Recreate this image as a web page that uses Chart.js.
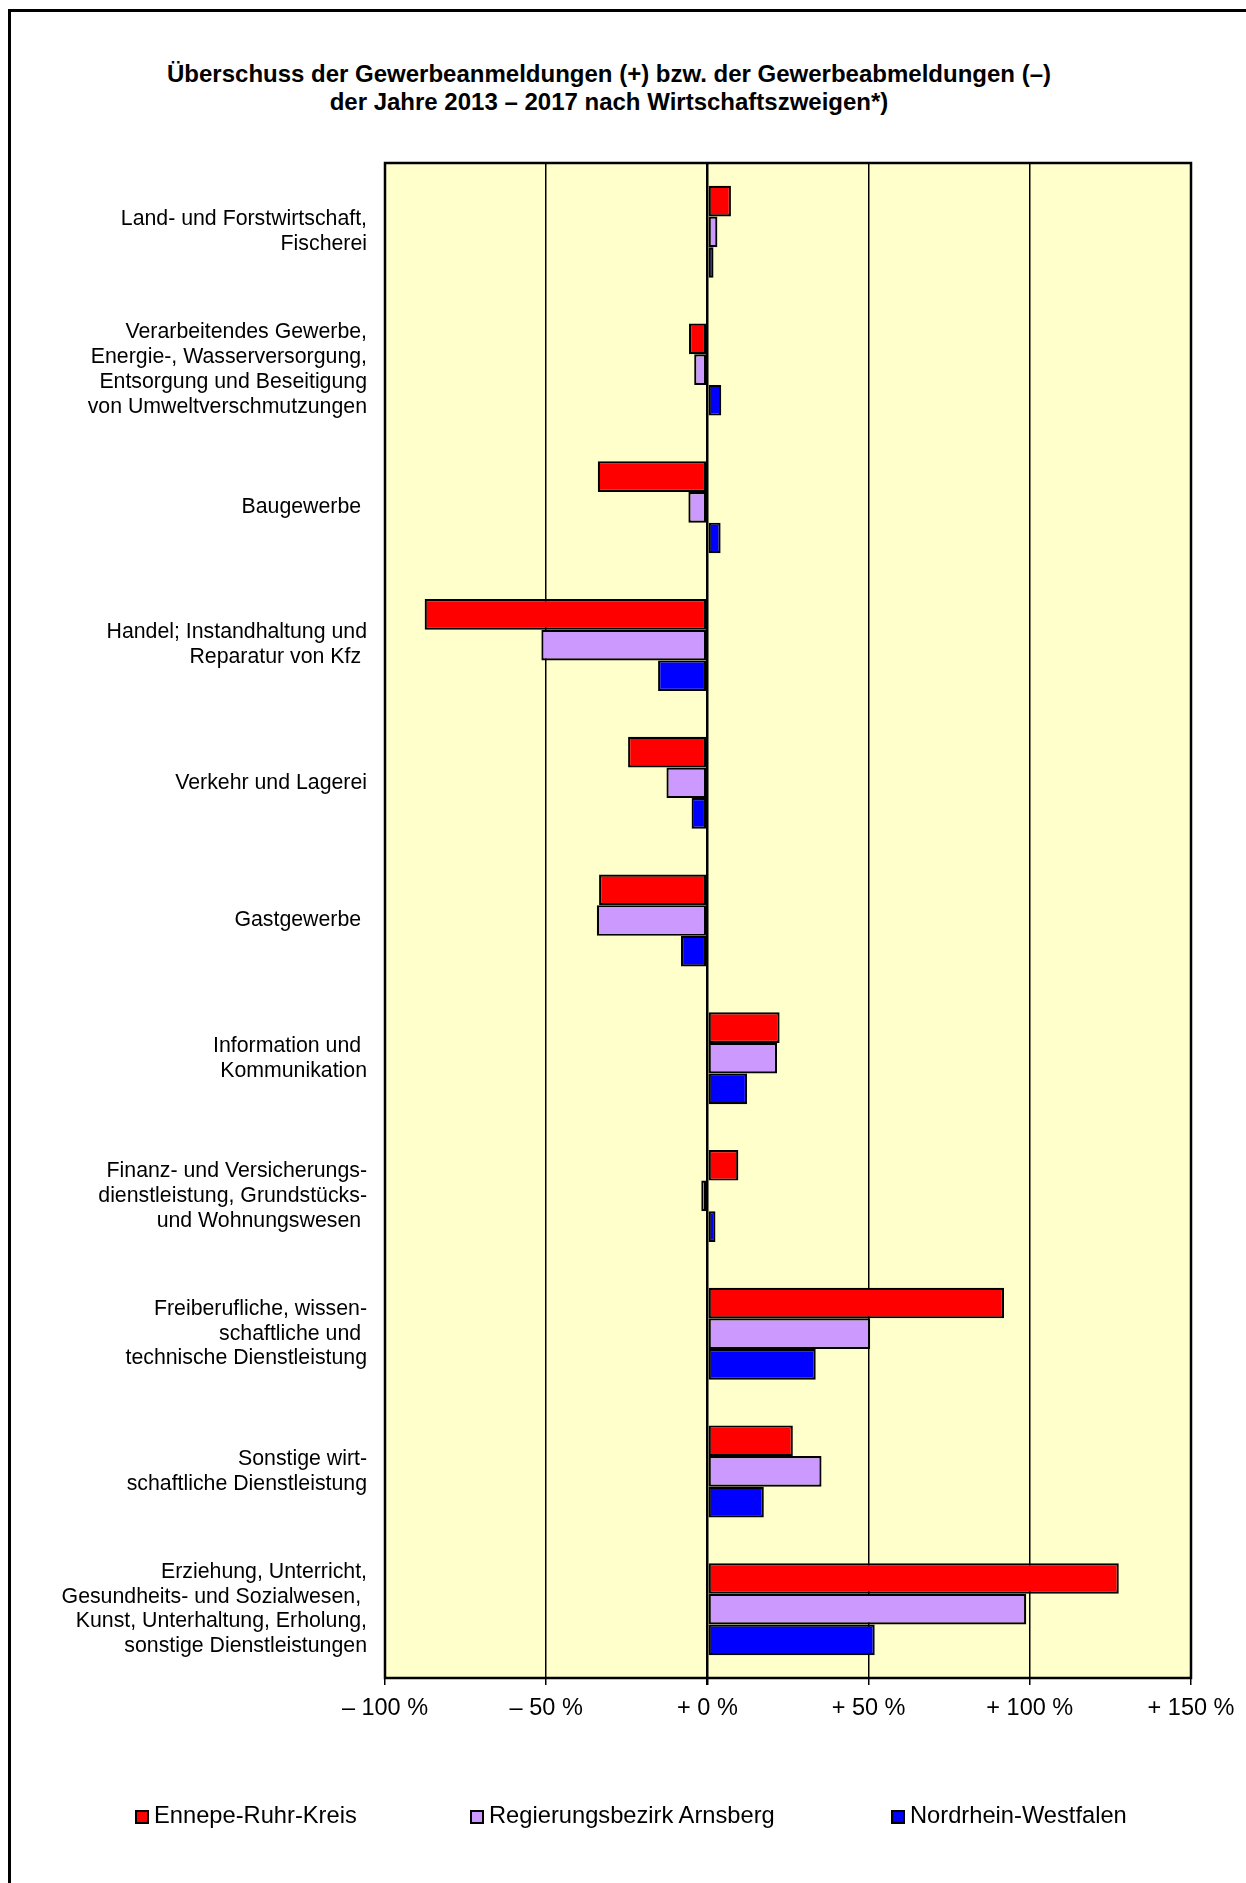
<!DOCTYPE html>
<html lang="de">
<head>
<meta charset="utf-8">
<title>Überschuss der Gewerbeanmeldungen</title>
<script src="https://cdn.jsdelivr.net/npm/chart.js@4/dist/chart.umd.min.js"></script>
<style>
  html, body { margin: 0; padding: 0; background: #fff; width: 1246px; height: 1883px; overflow: hidden; }
  body { position: relative; font-family: "Liberation Sans", Arial, sans-serif; }
  #frame { position: absolute; left: 8px; top: 9px; width: 1300px; height: 1900px; border-top: 3px solid #000; border-left: 3px solid #000; }
  #title { position: absolute; left: 0; top: 60px; width: 1218px; text-align: center; font-weight: bold; font-size: 24px; line-height: 28px; color: #000; }
  canvas { position: absolute; left: 0; top: 0; }
  .leg { position: absolute; top: 1801px; font-size: 23.7px; line-height: 28px; color: #000; white-space: nowrap; }
  .leg span { display: inline-block; width: 10px; height: 10px; border: 2px solid #000; margin-right: 5px; vertical-align: -1px; }
</style>
</head>
<body>
<div id="frame"></div>
<div id="title">Überschuss der Gewerbeanmeldungen (+) bzw. der Gewerbeabmeldungen (–)<br>der Jahre 2013 – 2017 nach Wirtschaftszweigen*)</div>
<canvas id="chart" width="1246" height="1883"></canvas>
<div class="leg" style="left:135px"><span style="background:#ff0000"></span>Ennepe-Ruhr-Kreis</div>
<div class="leg" style="left:470px"><span style="background:#cc99ff"></span>Regierungsbezirk Arnsberg</div>
<div class="leg" style="left:891px"><span style="background:#0000ff"></span>Nordrhein-Westfalen</div>

<script>
// Wirtschaftszweige (mehrzeilige Beschriftungen)
const categories = [
    ['Land- und Forstwirtschaft,', 'Fischerei'],
    ['Verarbeitendes Gewerbe,', 'Energie-, Wasserversorgung,', 'Entsorgung und Beseitigung', 'von Umweltverschmutzungen'],
    ['Baugewerbe '],
    ['Handel; Instandhaltung und', 'Reparatur von Kfz '],
    ['Verkehr und Lagerei'],
    ['Gastgewerbe '],
    ['Information und ', 'Kommunikation'],
    ['Finanz- und Versicherungs-', 'dienstleistung, Grundstücks-', 'und Wohnungswesen '],
    ['Freiberufliche, wissen-', 'schaftliche und ', 'technische Dienstleistung'],
    ['Sonstige wirt-', 'schaftliche Dienstleistung'],
    ['Erziehung, Unterricht,', 'Gesundheits- und Sozialwesen, ', 'Kunst, Unterhaltung, Erholung,', 'sonstige Dienstleistungen']
];

// Überschuss in %
const ennepeRuhr = [7.3, -5.7, -34, -87.7, -24.6, -33.6, 22.4, 9.6, 92, 26.5, 127.6];
const arnsberg   = [3.1, -4.1, -5.9, -51.5, -12.7, -34.3, 21.6, -1.9, 50.5, 35.4, 98.9];
const nrw        = [1.9, 4.3, 4.1, -15.3, -4.9, -8.2, 12.3, 2.5, 33.6, 17.5, 51.9];

const seriesNames = ['Ennepe-Ruhr-Kreis', 'Regierungsbezirk Arnsberg', 'Nordrhein-Westfalen'];

// Achsenbeschriftung
const tickValues = [-100, -50, 0, 50, 100, 150];
const tickLabels = ['– 100 %', '– 50 %', '+ 0 %', '+ 50 %', '+ 100 %', '+ 150 %'];

const FONT = '"Liberation Sans", Arial, sans-serif';

// gelber Hintergrund der Zeichenfläche
const plotBackground = {
    id: 'plotBackground',
    beforeDraw(chart) {
        const { ctx, chartArea: a } = chart;
        ctx.save();
        ctx.fillStyle = '#ffffcc';
        ctx.fillRect(a.left, a.top, a.right - a.left, a.bottom - a.top);
        ctx.restore();
    }
};

// schwarzer Rahmen um die Zeichenfläche
const plotFrame = {
    id: 'plotFrame',
    afterDatasetsDraw(chart) {
        const { ctx, chartArea: a } = chart;
        ctx.save();
        ctx.strokeStyle = '#000';
        ctx.lineWidth = 2.5;
        ctx.strokeRect(a.left, a.top, a.right - a.left, a.bottom - a.top);
        ctx.restore();
    }
};

const ctx = document.getElementById('chart').getContext('2d');

new Chart(ctx, {
    type: 'bar',
    data: {
        labels: categories,
        datasets: [
            { label: seriesNames[0], data: ennepeRuhr, backgroundColor: '#ff0000' },
            { label: seriesNames[1], data: arnsberg, backgroundColor: '#cc99ff' },
            { label: seriesNames[2], data: nrw, backgroundColor: '#0000ff' }
        ].map(ds => Object.assign(ds, {
            borderColor: '#000',
            borderWidth: 2.2,
            borderSkipped: false,
            categoryPercentage: 0.668,
            barPercentage: 1.0
        }))
    },
    options: {
        indexAxis: 'y',
        responsive: false,
        animation: false,
        layout: { padding: { left: 0, right: 55, top: 163, bottom: 165 } },
        plugins: {
            legend: { display: false },
            title: { display: false },
            tooltip: { enabled: false }
        },
        scales: {
            y: {
                grid: { display: false },
                border: { display: false },
                ticks: {
                    color: '#000',
                    padding: 10,
                    autoSkip: false,
                    font: { family: FONT, size: 21.3, lineHeight: 1.17 }
                },
                afterFit(scale) { scale.width = 385; }
            },
            x: {
                min: -100,
                max: 150,
                afterBuildTicks(scale) { scale.ticks = tickValues.map(v => ({ value: v })); },
                grid: {
                    color: '#000',
                    lineWidth: c => (c.tick && c.tick.value === 0 ? 2.5 : 1.5),
                    drawTicks: true,
                    tickLength: 7,
                    tickColor: '#000'
                },
                border: { display: false },
                ticks: {
                    color: '#000',
                    padding: 9.5,
                    maxRotation: 0,
                    font: { family: FONT, size: 23.5 },
                    callback: (value) => tickLabels[tickValues.indexOf(value)]
                },
                afterFit(scale) { scale.height = 40; }
            }
        }
    },
    plugins: [plotBackground, plotFrame]
});
</script>
</body>
</html>
